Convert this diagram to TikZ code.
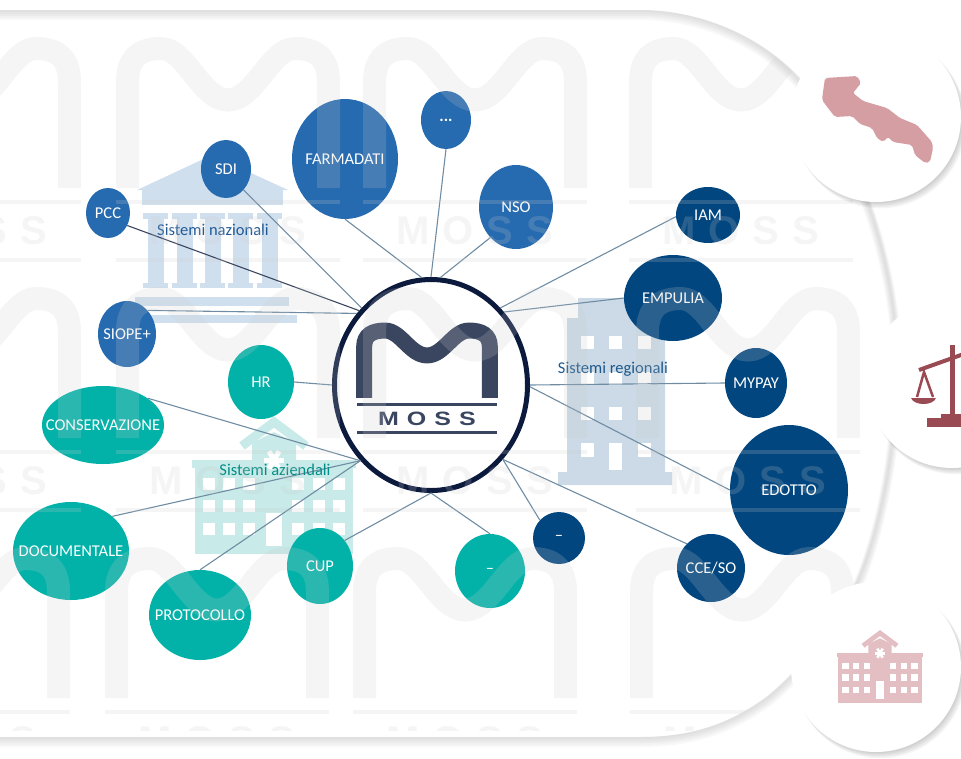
\documentclass[tikz,border=0pt]{standalone}
\usepackage{fontspec}
\setmainfont{Carlito}
\newfontfamily\mossfont[LetterSpace=32]{Liberation Sans}
\usetikzlibrary{shapes.geometric}
\definecolor{naz}{HTML}{266AB0}
\definecolor{reg}{HTML}{01467F}
\definecolor{azi}{HTML}{02B2A8}
\definecolor{ring}{HTML}{0B1A3D}
\definecolor{logo}{HTML}{3A4660}
\definecolor{wm}{HTML}{CCCCCC}
\definecolor{wire}{HTML}{6F8CA3}
\definecolor{bank}{HTML}{D0DFEE}
\definecolor{office}{HTML}{CBDAE6}
\definecolor{hospteal}{HTML}{C8EAE8}
\definecolor{hosppink}{HTML}{E3BFC4}
\definecolor{apulia}{HTML}{D49EA3}
\definecolor{scales}{HTML}{9A4A52}
\newcommand{\nm}[1]{\makebox[0pt]{#1}}
\newcommand{\shellpath}{(-8,10) -- (640,10) .. controls (705,10) and (765,40) .. (800,80) .. controls (860,150) and (900,270) .. (897,380) .. controls (895,450) and (880,530) .. (858,580) .. controls (835,630) and (800,670) .. (770,695) .. controls (730,725) and (690,737) .. (640,737) -- (-8,737) -- cycle}
\tikzset{
    pics/mosslogo/.style={code={
        \draw[line width=#1] (11.5,151) -- (11.5,45) .. controls (11.5,20) and (25,11.5) .. (45,11.5) .. controls (70,11.5) and (85,63) .. (112,63) .. controls (139,63) and (154,11.5) .. (179,11.5) .. controls (199,11.5) and (212.5,20) .. (212.5,45) -- (212.5,151);
        \draw[line width=#1/6.5] (0,165) -- (224,165);
        \draw[line width=#1/6.5] (0,223) -- (224,223);
        \node[transform shape,inner sep=0] (-word) at (112,194) {\fontsize{40}{40}\mossfont\bfseries MOSS};
    }},
    pics/hospital/.style 2 args={code={
        \fill[#1] (-82,-94) rectangle (82,-86);
        \fill[#1] (-79,-86) rectangle (79,0);
        \fill[#1] (-22,-111) -- (0,-122) -- (22,-111) -- (22,-86) -- (-22,-86) -- cycle;
        \draw[#1,line width=#2*9] (-32,-108) -- (0,-132) -- (32,-108);
        \foreach \a in {0,60,120} \draw[white,line width=#2*5] (\a:-10) ++(0,-94) -- ++(\a:20);
        \foreach \wx in {-71,-51,-31,18,39,59} \foreach \wy in {-76,-54,-31}
            \fill[white] (\wx,\wy) rectangle ++(12,12);
        \fill[white] (-8,-41) rectangle (8,-8);
    }}
}
\begin{document}
\begin{tikzpicture}[x=1pt,y=-1pt]
    \tikzstyle{every node}=[font=\fontsize{16.5}{16.5}\selectfont]
    \tikzstyle{oval}=[ellipse,inner sep=0,text=white]
    \tikzstyle{nazionale}=[oval,fill=naz]
    \tikzstyle{regionale}=[oval,fill=reg]
    \tikzstyle{aziendale}=[oval,fill=azi]
    \tikzstyle{link}=[draw=wire,line width=1.1pt]
    \tikzset{sz/.style 2 args={minimum width=#1,minimum height=#2}}
    \useasboundingbox (0,0) rectangle (961,758);
    %% Outer shape
    \foreach \k in {1,...,5}
        \draw[gray,opacity=.055,line width=2*\k,yshift=-\k*1pt] \shellpath;
    %% Background icons
    % bank
    \fill[bank] (137,190) -- (212,155) -- (288,190) -- cycle;
    \fill[bank] (142,190) rectangle (283,205);
    \foreach \cx in {155.5,184.5,212.5,240.5,269.5} {
        \fill[bank] (\cx-12.5,213) rectangle (\cx+12.5,219);
        \fill[bank] (\cx-8,219) rectangle (\cx+8,283);
        \fill[bank] (\cx-12.5,283) rectangle (\cx+12.5,288);
    }
    \fill[bank] (135,297) rectangle (289,306);
    \fill[bank] (123,315) rectangle (297,323);
    % office
    \fill[office] (578,298) -- (665,298) -- (665,472) -- (672,472) -- (672,485) -- (558,485) -- (558,472) -- (567,472) -- (567,318) -- (578,318) -- cycle;
    \foreach \wx in {581,609,638} \foreach \wy in {336,372,407}
        \fill[white] (\wx,\wy) rectangle ++(13,13);
    \foreach \wx in {581,638} \fill[white] (\wx,443) rectangle ++(13,14);
    \fill[white] (609,443) rectangle (622,470);
    % hospital
    \pic at (274,554) {hospital={hospteal}{1}};
    %% Systems
    % nazionali
    \node at (345,159) [nazionale,sz={106}{120}] (FARMADATI) {\nm{FARMADATI}};
    \node at (446,120) [nazionale,sz={50}{58}] (ALTRINAZ) {\nm{\textbf{...}}};
    \node at (516,207) [nazionale,sz={74}{84}] (NSO) {\nm{NSO}};
    \node at (226,169) [nazionale,sz={50}{58}] (SDI) {\nm{SDI}};
    \node at (108,213) [nazionale,sz={44}{50}] (PCC) {\nm{PCC}};
    \node at (127,334) [nazionale,sz={58}{66}] (SIOPE) {\nm{SIOPE+}};
    % aziendali
    \node at (261,382) [aziendale,sz={66}{74}] (HR) {\nm{HR}};
    \node at (103,425) [aziendale,sz={122}{78}] (CONSERVAZIONE) {\nm{CONSERVAZIONE}};
    \node at (71,551) [aziendale,sz={116}{98}] (DOCUMENTALE) {\nm{DOCUMENTALE}};
    \node at (200,615) [aziendale,sz={102}{90}] (PROTOCOLLO) {\nm{PROTOCOLLO}};
    \node at (320,566) [aziendale,sz={66}{76}] (CUP) {\nm{CUP}};
    \node at (490,571) [aziendale,sz={70}{74}] (ALTRIAZI) {\nm{\raisebox{-3pt}{--}}};
    % regionali
    \node at (559,538) [regionale,sz={52}{52}] (ALTRIREG) {\nm{\raisebox{-3pt}{--}}};
    \node at (711,568) [regionale,sz={68}{68}] (CCESO) {\nm{CCE/SO}};
    \node at (789,490) [regionale,sz={118}{130}] (EDOTTO) {\nm{EDOTTO}};
    \node at (756,383) [regionale,sz={62}{70}] (MYPAY) {\nm{MYPAY}};
    \node at (673,298) [regionale,sz={98}{86}] (EMPULIA) {\nm{EMPULIA}};
    \node at (708,215) [regionale,sz={64}{56}] (IAM) {\nm{IAM}};
    %% Hub
    \node at (431,385) [ellipse,draw=ring,fill=white,line width=5pt,inner sep=0,sz={193}{211}] (HUB) {};
    \pic[color=logo,xscale=.625,yscale=.483] (logo) at (357,325) {mosslogo=16};
    \path
    (FARMADATI.270) edge [link] (HUB.95)
    (ALTRINAZ.270) edge [link] (HUB.90)
    (NSO.230) edge [link] (HUB.85)
    (SDI.-50) edge [link] (HUB.132)
    (PCC.-33) edge [link,draw=logo] (HUB.134)
    (SIOPE.49) edge [link] (HUB.136)
    (HR.0) edge [link] (HUB.180)
    (CONSERVAZIONE.31) edge [link] (HUB.-133)
    (DOCUMENTALE.40) edge [link] (HUB.-133)
    (PROTOCOLLO.90) edge [link] (HUB.-133)
    (CUP.46) edge [link] (HUB.-90)
    (ALTRIAZI.90) edge [link] (HUB.-90)
    (ALTRIREG.137) edge [link] (HUB.-46)
    (CCESO.135) edge [link] (HUB.-46)
    (EDOTTO.180) edge [link] (HUB.-1)
    (MYPAY.180) edge [link] (HUB.0)
    (EMPULIA.180) edge [link] (HUB.45)
    (IAM.183) edge [link] (HUB.48);
    %% Group labels
    \node at (213,230) [text=naz!85!black] (LABELNAZ) {Sistemi nazionali};
    \node at (613,369) [text=reg!90!white] (LABELREG) {Sistemi regionali};
    \node at (275,470) [text=azi!80!black] (LABELAZI) {Sistemi aziendali};
    %% Watermark
    \begin{scope}
        \clip \shellpath;
        \clip (-8,0) rectangle (970,730);
        \foreach \tx/\ty [count=\n] in {-143/37,116/37,363/37,629/37,-143/287,116/287,363/287,636/287,-154/547,105/547,353/547,630/547}
            \pic[color=wm,opacity=.2] (wm\n) at (\tx,\ty) {mosslogo=23};
    \end{scope}
    %% Right discs
    \foreach \cx/\cy in {876/117,952/383,876/667}
        \foreach \k in {1,...,6}
            \fill[black,opacity=.04] (\cx+\k*.7,\cy+\k*.9) circle [radius=83.5+\k*.4];
    \node at (876,117) [circle,fill=white,inner sep=0,minimum size=170] (PUGLIA) {};
    \node at (952,383) [circle,fill=white,inner sep=0,minimum size=170] (GIUSTIZIA) {};
    \node at (876,667) [circle,fill=white,inner sep=0,minimum size=170] (OSPEDALE) {};
    % apulia
    \fill[apulia,rounded corners=2pt] (825,78) -- (857,76) -- (861,83) -- (853,93) -- (863,101) -- (887,108) -- (900,118) -- (917,125) -- (932,142) -- (933,148) -- (930,162) -- (925,163) -- (915,155) -- (912,145) -- (893,142) -- (888,137) -- (883,142) -- (877,138) -- (872,128) -- (860,124) -- (852,116) -- (835,117) -- (828,108) -- (822,100) -- (823,92) -- cycle;
    % scales
    \fill[scales] (950,345) rectangle (955,418);
    \fill[scales] (941,414) rectangle (961,418);
    \fill[scales] (927,418) rectangle (961,427);
    \draw[scales,line width=4pt] (919,370) -- (975,350);
    \draw[scales,line width=2.5pt] (917,397) -- (924,372) -- (933,397);
    \fill[scales] (911,398) -- (936,398) .. controls (933,406) and (914,406) .. (911,398) -- cycle;
    % hospital
    \pic[scale=.53] at (880,703) {hospital={hosppink}{.53}};
\end{tikzpicture}
\end{document}
